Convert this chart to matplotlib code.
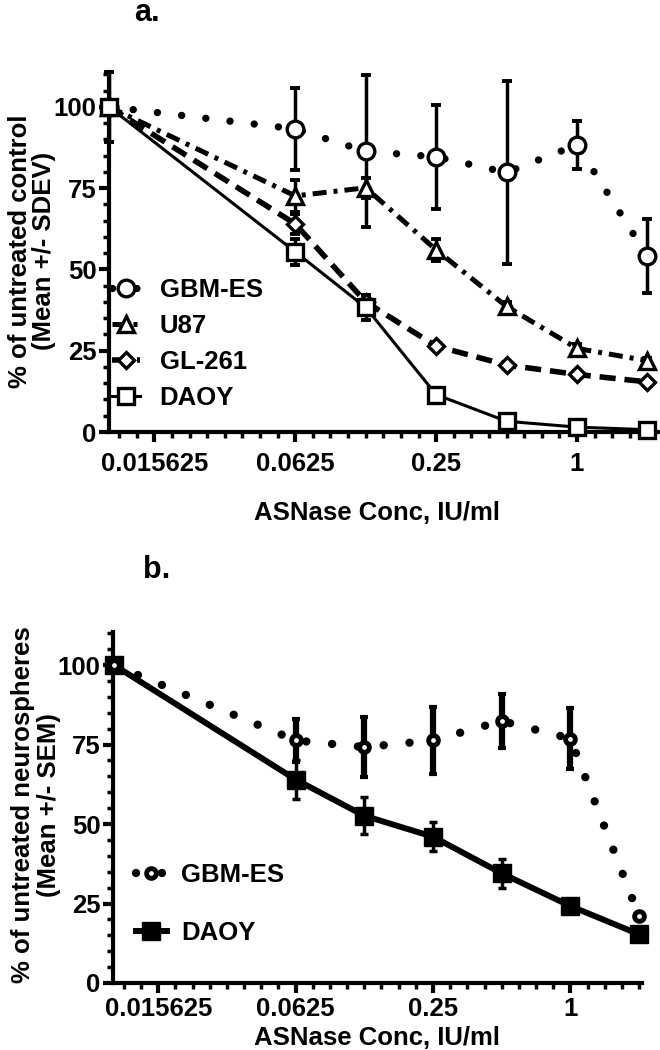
import matplotlib
matplotlib.use("Agg")
import matplotlib.pyplot as plt
from matplotlib.lines import Line2D
from matplotlib.ticker import NullFormatter, FixedLocator, MultipleLocator

plt.rcParams['font.family'] = ['Liberation Sans', 'DejaVu Sans']
plt.rcParams['font.weight'] = 'bold'

# ---------------- data ----------------
conc = [0.01, 0.0625, 0.125, 0.25, 0.5, 1, 2]
xtick_vals = [0.015625, 0.0625, 0.25, 1]
xtick_labels = ["0.015625", "0.0625", "0.25", "1"]
ytick_vals = [0, 25, 50, 75, 100]

# panel a (Mean +/- SDEV)
a_gbm = [100, 93.2, 86.3, 84.6, 79.8, 88.3, 54.0]
a_gbm_sd = [10.7, 12.7, 23.4, 16.0, 28.0, 7.3, 11.4]
a_u87 = [100, 72.6, 75.1, 56.0, 38.6, 25.7, 21.9]
a_u87_sd = [0, 4.8, 3.0, 3.5, 1.5, 1.5, 1.0]
a_gl = [100, 64.0, 40.0, 26.4, 20.6, 17.7, 15.4]
a_gl_sd = [0, 3.0, 2.0, 1.0, 1.0, 1.0, 1.0]
a_daoy = [100, 55.4, 38.3, 11.5, 3.3, 1.5, 0.7]
a_daoy_sd = [0, 4.0, 3.8, 1.0, 1.0, 0.5, 0.5]

# panel b (Mean +/- SEM)
b_gbm = [100, 76.3, 74.2, 76.3, 82.4, 76.9, 21.0]
b_gbm_sem = [0, 6.8, 9.4, 10.5, 8.6, 9.6, 1.0]
b_daoy = [100, 64.0, 52.6, 46.0, 34.5, 24.2, 15.3]
b_daoy_sem = [0, 6.2, 5.8, 4.5, 4.5, 1.0, 1.0]

FS = 18.5
W, H = 660, 1050

fig = plt.figure(figsize=(W / 100, H / 100), dpi=100)
ax1 = fig.add_axes([109 / W, 1 - 432 / H, 550 / W, 360 / H])
ax2 = fig.add_axes([113 / W, 1 - 983 / H, 529 / W, 351 / H])


def style_axes(ax, xlim, ylim, xpad):
    ax.set_xscale('log', base=2)
    ax.set_xlim(*xlim)
    ax.set_ylim(*ylim)
    for s in ('top', 'right'):
        ax.spines[s].set_visible(False)
    for s in ('left', 'bottom'):
        ax.spines[s].set_linewidth(3)
    ax.xaxis.set_major_locator(FixedLocator(xtick_vals))
    ax.set_xticklabels(xtick_labels)
    minors = []
    for k in range(-40, 8):
        v = 2 ** (k / 4)
        if xlim[0] < v <= xlim[1] and v not in xtick_vals:
            minors.append(v)
    ax.xaxis.set_minor_locator(FixedLocator(minors))
    ax.xaxis.set_minor_formatter(NullFormatter())
    ax.set_yticks(ytick_vals)
    ax.yaxis.set_minor_locator(MultipleLocator(5))
    ax.tick_params(which='major', length=7, width=3, labelsize=FS)
    ax.tick_params(which='minor', length=4, width=2.5)
    ax.tick_params(axis='y', which='major', pad=2)
    ax.tick_params(axis='x', which='major', pad=xpad)
    for lab in ax.get_xticklabels() + ax.get_yticklabels():
        lab.set_fontweight('bold')


# ---------------- panel a ----------------
style_axes(ax1, (0.01, 2.24), (0, 110.7), 7.5)

series_a = [
    (a_gbm, a_gbm_sd, 'o', 12, dict(linestyle=(0, (0.01, 3.3)), linewidth=5.3,
                                    dash_capstyle='round'), 'GBM-ES'),
    (a_u87, a_u87_sd, '^', 11, dict(linestyle=(0, (2.8, 1.4, 0.8, 1.4)), linewidth=3.6,
                                    dash_capstyle='butt'), 'U87'),
    (a_gl, a_gl_sd, 'D', 8, dict(linestyle=(0, (2.9, 1.6)), linewidth=4.0,
                                 dash_capstyle='butt'), 'GL-261'),
    (a_daoy, a_daoy_sd, 's', 11.5, dict(linestyle='-', linewidth=2.2), 'DAOY'),
]
handles_a = []
for i, (y, e, m, ms, lkw, lab) in enumerate(series_a):
    ax1.errorbar(conc, y, yerr=e, fmt='none', ecolor='black', elinewidth=2.5,
                 capsize=3.6, capthick=2.8, zorder=3 + i * 0.1, clip_on=False)
    ax1.plot(conc, y, color='black', zorder=3.5, clip_on=False, **lkw)
    ax1.plot(conc, y, linestyle='none', marker=m, markersize=ms, markerfacecolor='white',
             markeredgecolor='black', markeredgewidth=2.4, zorder=5 + i * 0.1, clip_on=False)
    handles_a.append(Line2D([], [], color='black', marker=m, markersize=ms,
                            markerfacecolor='white', markeredgecolor='black',
                            markeredgewidth=2.4, **lkw))

ax1.legend(handles_a, [s[-1] for s in series_a], loc='upper left',
           bbox_to_anchor=(0.0055, 0.428), frameon=False, borderpad=0,
           handlelength=1.1, handletextpad=0.75, labelspacing=0.47, borderaxespad=0,
           prop={'family': 'Liberation Sans', 'weight': 'bold', 'size': FS})

# ---------------- panel b ----------------
style_axes(ax2, (0.0099, 2.06), (0, 110.4), 3.2)

ax2.errorbar(conc, b_gbm, yerr=b_gbm_sem, fmt='none', ecolor='black', elinewidth=4.5,
             capsize=3.2, capthick=3, zorder=3, clip_on=False)
ax2.errorbar(conc, b_daoy, yerr=b_daoy_sem, fmt='none', ecolor='black', elinewidth=2.5,
             capsize=3, capthick=2.5, zorder=3, clip_on=False)
gbm_b_kw = dict(linestyle=(0, (0.01, 3.1)), linewidth=6, dash_capstyle='round')
daoy_b_kw = dict(linestyle='-', linewidth=4.3)
ax2.plot(conc, b_gbm, color='black', zorder=3.5, clip_on=False, **gbm_b_kw)
ax2.plot(conc, b_daoy, color='black', zorder=3.5, clip_on=False, **daoy_b_kw)
ax2.plot(conc, b_daoy, linestyle='none', marker='s', markersize=13, markerfacecolor='black',
         markeredgecolor='black', markeredgewidth=1, zorder=5, clip_on=False)
ax2.plot(conc, b_gbm, linestyle='none', marker='o', markersize=7, markerfacecolor='white',
         markeredgecolor='black', markeredgewidth=3.5, zorder=5.1, clip_on=False)

handles_b = [
    Line2D([], [], color='black', marker='o', markersize=7, markerfacecolor='white',
           markeredgecolor='black', markeredgewidth=3.5, **gbm_b_kw),
    Line2D([], [], color='black', marker='s', markersize=13, markerfacecolor='black',
           markeredgecolor='black', markeredgewidth=1, **daoy_b_kw),
]
ax2.legend(handles_b, ['GBM-ES', 'DAOY'], loc='upper left',
           bbox_to_anchor=(0.0435, 0.342), frameon=False, borderpad=0,
           handlelength=1.2, handletextpad=0.55, labelspacing=1.33, borderaxespad=0,
           prop={'family': 'Liberation Sans', 'weight': 'bold', 'size': FS})

# ---------------- texts ----------------
tkw = dict(fontsize=FS, fontweight='bold', ha='center')
fig.text(147 / W, 1 - 21 / H, 'a.', va='baseline', **{**tkw, 'fontsize': 22})
fig.text(157 / W, 1 - 578 / H, 'b.', va='baseline', **{**tkw, 'fontsize': 22})
fig.text(377 / W, 1 - 520 / H, 'ASNase Conc, IU/ml', va='baseline', **tkw)
fig.text(377 / W, 1 - 1045 / H, 'ASNase Conc, IU/ml', va='baseline', **tkw)
fig.text(32 / W, 1 - 251 / H, '% of untreated control\n(Mean +/- SDEV)', va='center',
         rotation=90, linespacing=1.0, **tkw)
fig.text(36 / W, 1 - 805 / H, '% of untreated neurospheres\n(Mean +/- SEM)', va='center',
         rotation=90, linespacing=1.1, **tkw)

fig.savefig('out.png', dpi=100)
